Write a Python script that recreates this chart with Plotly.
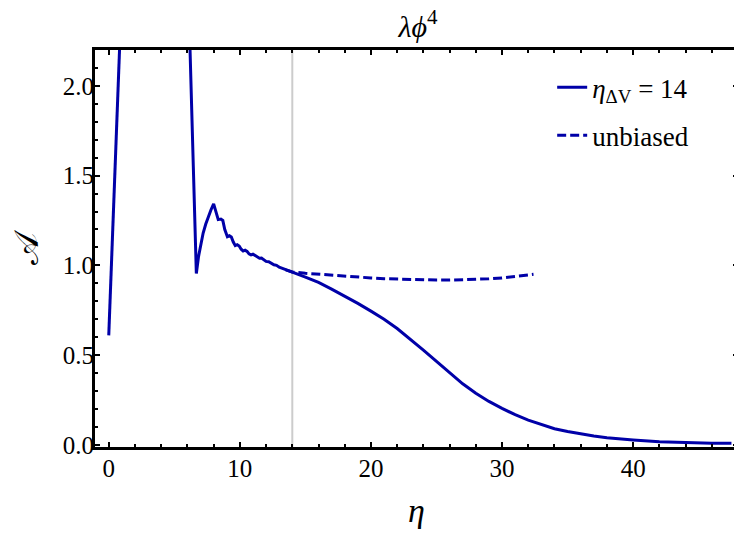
import plotly.graph_objects as go

# biased run (eta_dV = 14); None marks the stretch that is off the top of the plot
eta_biased = [0.0, 0.41, 0.82, 0.95, None,
              6.15, 6.2, 6.45, 6.68, 6.85, 7.0, 7.2, 7.4, 7.6, 7.8, 8.0,
              8.15, 8.35, 8.55, 8.7, 8.85, 9.05, 9.2, 9.35, 9.5, 9.65, 9.8,
              9.95, 10.1, 10.25, 10.4, 10.55, 10.7, 10.85, 11.0, 11.15, 11.3,
              11.5, 11.65, 11.8, 12.0, 12.2, 12.4, 12.6, 12.8, 13.0, 13.2,
              13.5, 13.75, 14.0, 15.0, 16.0, 17.0, 18.0, 19.0, 20.0, 21.0,
              22.0, 23.0, 24.0, 25.0, 26.0, 27.0, 28.0, 29.0, 30.0, 31.0,
              32.0, 33.0, 34.0, 35.0, 36.0, 37.0, 38.0, 39.0, 40.0, 42.0,
              44.0, 46.0, 47.5]
a_biased = [0.61, 1.40, 2.2, 2.45, None,
            2.45, 2.2, 1.55, 0.955, 1.05, 1.115, 1.18, 1.23, 1.272, 1.31, 1.343,
            1.30, 1.255, 1.258, 1.25, 1.20, 1.16, 1.165, 1.158, 1.13, 1.11, 1.115,
            1.108, 1.09, 1.08, 1.085, 1.078, 1.064, 1.058, 1.062, 1.055, 1.045,
            1.04, 1.041, 1.032, 1.022, 1.02, 1.012, 1.003, 1.0, 0.99, 0.985,
            0.975, 0.968, 0.962, 0.935, 0.905, 0.868, 0.829, 0.788, 0.745, 0.70,
            0.648, 0.59, 0.528, 0.465, 0.40, 0.34, 0.288, 0.242, 0.203, 0.168,
            0.138, 0.112, 0.09, 0.074, 0.06, 0.049, 0.04, 0.033, 0.027, 0.017,
            0.011, 0.009, 0.009]

# unbiased run
eta_unbiased = [13.5, 14.0, 15.0, 16.0, 17.0, 18.0, 19.0, 20.0, 21.0, 22.0,
                23.0, 24.0, 25.0, 26.0, 27.0, 28.0, 29.0, 30.0, 31.0, 32.0, 32.4]
a_unbiased = [0.975, 0.963, 0.956, 0.95, 0.944, 0.939, 0.934, 0.93, 0.926, 0.923,
              0.92, 0.919, 0.918, 0.918, 0.919, 0.921, 0.925, 0.93, 0.938, 0.946, 0.95]

eta_dv = 14

blue = "#0000a8"
serif = "Liberation Serif"

fig = go.Figure()
fig.add_vline(x=eta_dv, line=dict(color="#cccccc", width=2), layer="below")
fig.add_trace(go.Scatter(x=eta_unbiased, y=a_unbiased, mode="lines", name="unbiased",
                         line=dict(color=blue, width=3, dash="9px,4px"),
                         legendgroup="u", legendrank=2))
fig.add_trace(go.Scatter(x=eta_biased, y=a_biased, mode="lines",
                         name="<i>η</i><sub>ΔV</sub> = 14",
                         line=dict(color=blue, width=3), connectgaps=False,
                         legendgroup="b", legendrank=1))

axis_common = dict(
    showline=True, linecolor="black", linewidth=3, mirror="allticks",
    ticks="inside", ticklen=5, tickwidth=1.5, tickcolor="black",
    showgrid=False, zeroline=False, automargin=False,
    tickfont=dict(family=serif, size=25, color="black"),
)

fig.update_xaxes(range=[-1.05, 48], tick0=0, dtick=10, ticklabelstandoff=-3,
                 minor=dict(dtick=2, ticks="inside", ticklen=3, tickwidth=1.5, tickcolor="black"),
                 title=dict(text="<i>η</i>", font=dict(family=serif, size=34, color="black"), standoff=18),
                 **axis_common)
fig.update_yaxes(range=[-0.012, 2.2], tick0=0, dtick=0.5, tickformat=".1f",
                 ticklabelstandoff=-7,
                 minor=dict(dtick=0.1, ticks="inside", ticklen=3, tickwidth=1.5, tickcolor="black"),
                 title=dict(text="𝒜", font=dict(family=serif, size=34, color="black"), standoff=16),
                 **axis_common)

# the page adds an 8px body margin, so the figure is 8px smaller than the window
fig.update_layout(
    width=734, height=531,
    margin=dict(l=87, r=4, t=42, b=92),
    paper_bgcolor="white", plot_bgcolor="white",
    title=dict(text="<i>λϕ</i><sup>4</sup>", x=410 / 734, xanchor="center",
               y=1 - 18 / 531, yanchor="middle",
               font=dict(family=serif, size=30, color="black")),
    legend=dict(x=0.711, y=0.967, xanchor="left", yanchor="top",
                bgcolor="rgba(0,0,0,0)", tracegroupgap=10,
                font=dict(family=serif, size=27, color="black")),
    font=dict(family=serif, color="black"),
)

fig.write_html("out.html")
